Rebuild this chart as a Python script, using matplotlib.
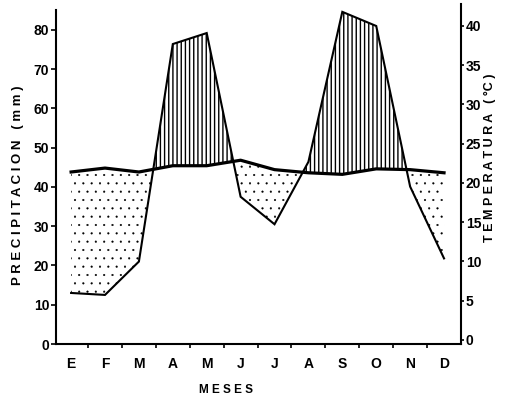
import numpy as np
import matplotlib
matplotlib.use('Agg')
import matplotlib.pyplot as plt

plt.rcParams['font.family'] = ['Liberation Sans', 'DejaVu Sans']
plt.rcParams['hatch.linewidth'] = 1.0

meses = ['E', 'F', 'M', 'A', 'M', 'J', 'J', 'A', 'S', 'O', 'N', 'D']
precip = [13, 12.5, 21, 76.4, 79.2, 37.5, 30.5, 46.4, 84.6, 81.0, 40.1, 21.8]      # mm
temp = [21.4, 21.9, 21.4, 22.2, 22.2, 22.9, 21.7, 21.3, 21.1, 21.8, 21.7, 21.3]    # grados C

p_ticks = [0, 10, 20, 30, 40, 50, 60, 70, 80]
t_ticks = [0, 5, 10, 15, 20, 25, 30, 35, 40]

p_lim = (0, 86.6)
t_lim = (-0.51, 42.8)

x = np.arange(len(meses))
precip = np.array(precip)
temp = np.array(temp)
# temperatura expresada en la escala de precipitacion
temp_mm = (temp - t_lim[0]) / (t_lim[1] - t_lim[0]) * (p_lim[1] - p_lim[0]) + p_lim[0]

fig = plt.figure(figsize=(5.13, 4.0), dpi=100)
ax = fig.add_axes([0.1082, 0.14, 0.7904, 0.85])
ax2 = ax.twinx()

# periodo humedo (rayado vertical) y periodo seco (punteado)
ax.fill_between(x, temp_mm, precip, where=precip >= temp_mm, interpolate=True,
                facecolor='none', edgecolor='black', hatch='||||', linewidth=0)
with plt.rc_context({'hatch.linewidth': 0.3}):
    seco = ax.fill_between(x, precip, temp_mm, where=precip <= temp_mm, interpolate=True,
                           facecolor='none', edgecolor='black', hatch='..', linewidth=0)
if hasattr(seco, 'set_hatch_linewidth'):
    seco.set_hatch_linewidth(0.3)

ax.plot(x, precip, color='black', linewidth=1.5, solid_joinstyle='miter')
ax.plot(x, temp_mm, color='black', linewidth=2.3)

ax.set_xlim(-0.46, 11.5)
ax.set_ylim(*p_lim)
ax2.set_ylim(*t_lim)

for a in (ax, ax2):
    a.spines['top'].set_visible(False)
    for s in a.spines.values():
        s.set_linewidth(1.5)
ax.spines['left'].set_bounds(0, 85)
ax.spines['right'].set_visible(False)
ax2.spines['left'].set_visible(False)
ax2.spines['bottom'].set_visible(False)

ax.set_yticks(p_ticks)
ax.tick_params(axis='y', direction='out', length=3.5, width=1.2, pad=1,
               labelsize=10)
ax2.set_yticks(t_ticks)
ax2.tick_params(axis='y', direction='out', length=2.5, width=1.2, pad=1,
                labelsize=10)

ax.set_xticks(x)
ax.set_xticklabels(meses)
ax.set_xticks(x[:-1] + 0.5, minor=True)
ax.tick_params(axis='x', which='major', length=0, pad=9, labelsize=10)
ax.tick_params(axis='x', which='minor', direction='out', length=3, width=1.2)

for lab in ax.get_yticklabels() + ax2.get_yticklabels() + ax.get_xticklabels():
    lab.set_fontweight('bold')

fig.text(18 / 513, 1 - 185 / 400, 'P R E C I P I T A C I O N   ( m m )',
         rotation=90, ha='center', va='center', fontsize=9.5, fontweight='bold')
fig.text(490 / 513, 1 - 158 / 400, 'T E M P E R A T U R A   ( °C )',
         rotation=90, ha='center', va='center', fontsize=9, fontweight='bold')
fig.text(226 / 513, 1 - 390 / 400, 'M E S E S',
         ha='center', va='center', fontsize=8.5, fontweight='bold')

fig.savefig('out.png', dpi=100)
